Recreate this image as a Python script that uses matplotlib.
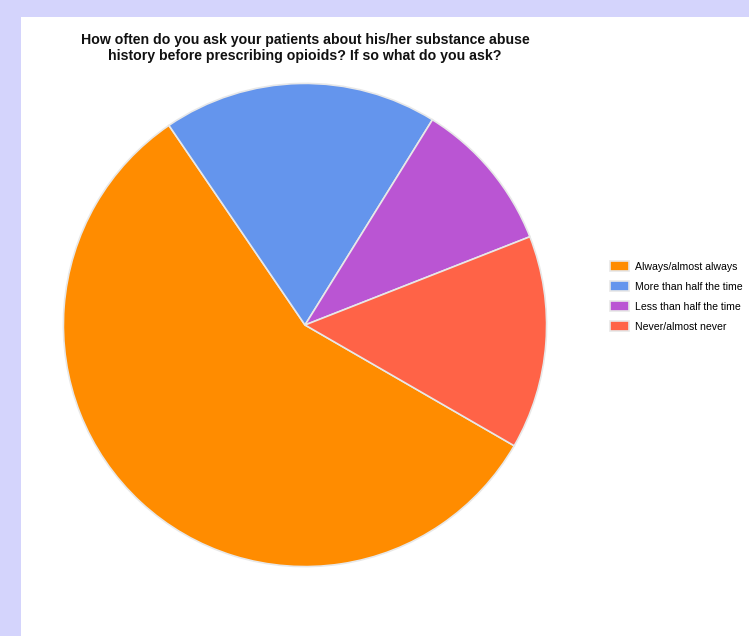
import matplotlib
matplotlib.use("Agg")
import matplotlib.pyplot as plt
from matplotlib.patches import Rectangle

# survey answers (counts)
labels = ["Always/almost always", "More than half the time",
          "Less than half the time", "Never/almost never"]
counts = [28, 9, 5, 7]
colors = ["#ff8c00", "#6495ed", "#ba55d3", "#ff6347"]
title = ("How often do you ask your patients about his/her substance abuse\n"
         "history before prescribing opioids? If so what do you ask?")

W, H = 749, 636
fig = plt.figure(figsize=(W / 100, H / 100), dpi=100)
fig.patch.set_facecolor("#d4d4fc")
fig.patches.append(Rectangle((21 / W, 0), 1 - 21 / W, (H - 17) / H,
                             transform=fig.transFigure, facecolor="white",
                             edgecolor="none", zorder=-5))

cx, cy, r = 305, 325, 244
ax = fig.add_axes([(cx - r) / W, (H - cy - r) / H, 2 * r / W, 2 * r / H])
ax.set_zorder(2)
wedges, _ = ax.pie(counts, colors=colors, startangle=-30, counterclock=False,
                   radius=1, wedgeprops=dict(edgecolor="#e8e8e8", linewidth=1.2))
ax.set_xlim(-1.01, 1.01)
ax.set_ylim(-1.01, 1.01)
ax.set_aspect("equal")
ax.axis("off")

fig.text(305 / W, 1 - 48 / H, title, ha="center", va="center",
         fontsize=10.2, fontweight="bold", family="Liberation Sans",
         color="#111111", linespacing=1.15)

fig.legend(wedges, labels, loc="upper left", bbox_to_anchor=(606 / W, 1 - 257 / H),
           frameon=False, prop=dict(family="Liberation Sans", size=7.6),
           handlelength=1.75, handleheight=1.0, handletextpad=0.6,
           labelspacing=0.92, borderaxespad=0)

fig.savefig("out.png", dpi=100)
